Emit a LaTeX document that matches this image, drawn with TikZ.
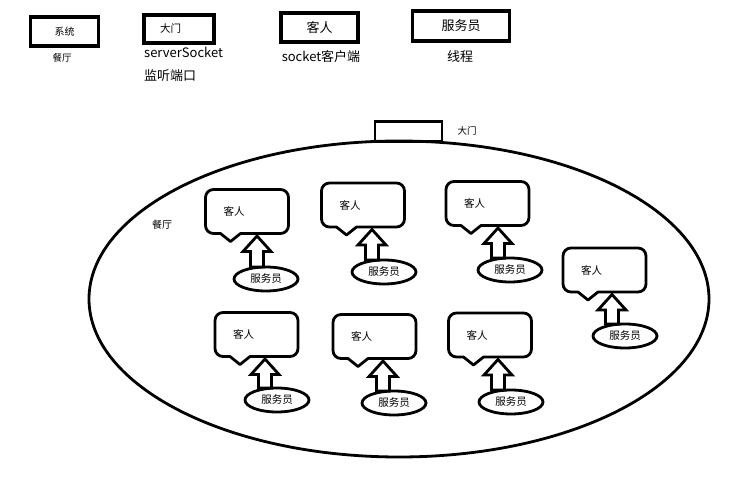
\documentclass[tikz,border=0pt]{standalone}
\usepackage{fontspec}
\setmainfont{Noto Sans CJK SC}
\usetikzlibrary{calc,shapes.geometric}
\tikzset{
  legbox/.style={draw, line width=3.4pt, outer sep=0pt, inner sep=0pt},
  bubble/.style={draw=none, outer sep=0pt, inner xsep=18pt, inner ysep=0pt,
    text width=47pt, align=left, minimum height=44pt, font=\fontsize{10.5}{12}\selectfont},
  bline/.style={line width=2.8pt, line join=round},
  waiter/.style={draw, ellipse, line width=2.8pt, outer sep=0pt, inner sep=0pt,
    minimum width=64pt, minimum height=24pt, font=\fontsize{10.5}{12}\selectfont},
  aline/.style={draw, line width=2.8pt, line join=miter, fill=white},
  big/.style={font=\fontsize{13}{15}\selectfont},
  small/.style={font=\fontsize{9.5}{11}\selectfont}
}
\newcommand{\bubbleoutline}[1]{%
  \draw[bline] ($(#1.north west)+(0,8)$) arc(180:270:8)
    -- ($(#1.north east)+(-8,0)$) arc(270:360:8)
    -- ($(#1.south east)+(0,-8)$) arc(0:90:8)
    -- ($(#1.south west)+(35,0)$) -- ($(#1.south west)+(25,8)$)
    -- ($(#1.south west)+(15,0)$) -- ($(#1.south west)+(8,0)$) arc(90:180:8)
    -- cycle;}
\newcommand{\blockarrow}[3]{%
  \coordinate (abase) at ($(#1.north)+(#3,0)$);
  \coordinate (atop) at (#2.south);
  \draw[aline] let \p1=(abase), \p2=(atop) in
    (\x1,\y2-2.5pt) -- (\x1+14pt,\y2-18pt) -- (\x1+6.5pt,\y2-18pt)
    -- (\x1+6.5pt,\y1) -- (\x1-6.5pt,\y1) -- (\x1-6.5pt,\y2-18pt)
    -- (\x1-14pt,\y2-18pt) -- cycle;}
\begin{document}
\begin{tikzpicture}[x=1pt,y=-1pt]
\useasboundingbox (0,0) rectangle (737,478);
% legend
\node[legbox, minimum width=68pt, minimum height=29pt, font=\fontsize{10}{12}\selectfont] (l1) at (64.5,31.5) {系统};
\node[font=\fontsize{9.5}{11}\selectfont] (l1t) at (62,58) {餐厅};
\node[legbox, minimum width=70pt, minimum height=28pt, inner xsep=16pt, text width=38pt, align=left, font=\fontsize{10.5}{12}\selectfont] (l2) at (179,29) {大门};
\node[big, anchor=west, inner sep=0pt] (l2t) at (144,52) {serverSocket};
\node[big, anchor=west, inner sep=0pt] (l2u) at (144,76) {监听端口};
\node[legbox, minimum width=77pt, minimum height=29pt, font=\fontsize{13}{15}\selectfont] (l3) at (319.5,27.5) {客人};
\node[big, inner sep=0pt] (l3t) at (321,57) {socket客户端};
\node[legbox, minimum width=97pt, minimum height=30pt, font=\fontsize{13}{15}\selectfont] (l4) at (461,26) {服务员};
\node[big, inner sep=0pt] (l4t) at (460,57) {线程};
% restaurant
\draw[line width=2.8pt] (399,299) ellipse [x radius=310, y radius=158];
\node[draw, line width=2.8pt, minimum width=67pt, minimum height=20pt, inner sep=0pt, outer sep=0pt] (door) at (408.5,131.5) {};
\node[small] (doorl) at (467,131) {大门};
\node[font=\fontsize{10}{12}\selectfont] (hall) at (162,225) {餐厅};
% bubbles
\foreach \k/\cx/\cy/\ex/\ey/\dx in {1/247/211.5/266/279/-9, 2/363/205/384/272/-12, 3/487.5/203.5/510/270/-12, 4/604.5/270/625/336/-13, 5/256.5/334.5/277/400/-12, 6/374.5/336.5/394/403/-11, 7/490/335/511/402/-13}{
  \node[bubble] (c\k) at (\cx,\cy) {客人};
  \bubbleoutline{c\k}
  \node[waiter] (w\k) at (\ex,\ey) {服务员};
  \blockarrow{w\k}{c\k}{\dx}
}
\end{tikzpicture}
\end{document}
